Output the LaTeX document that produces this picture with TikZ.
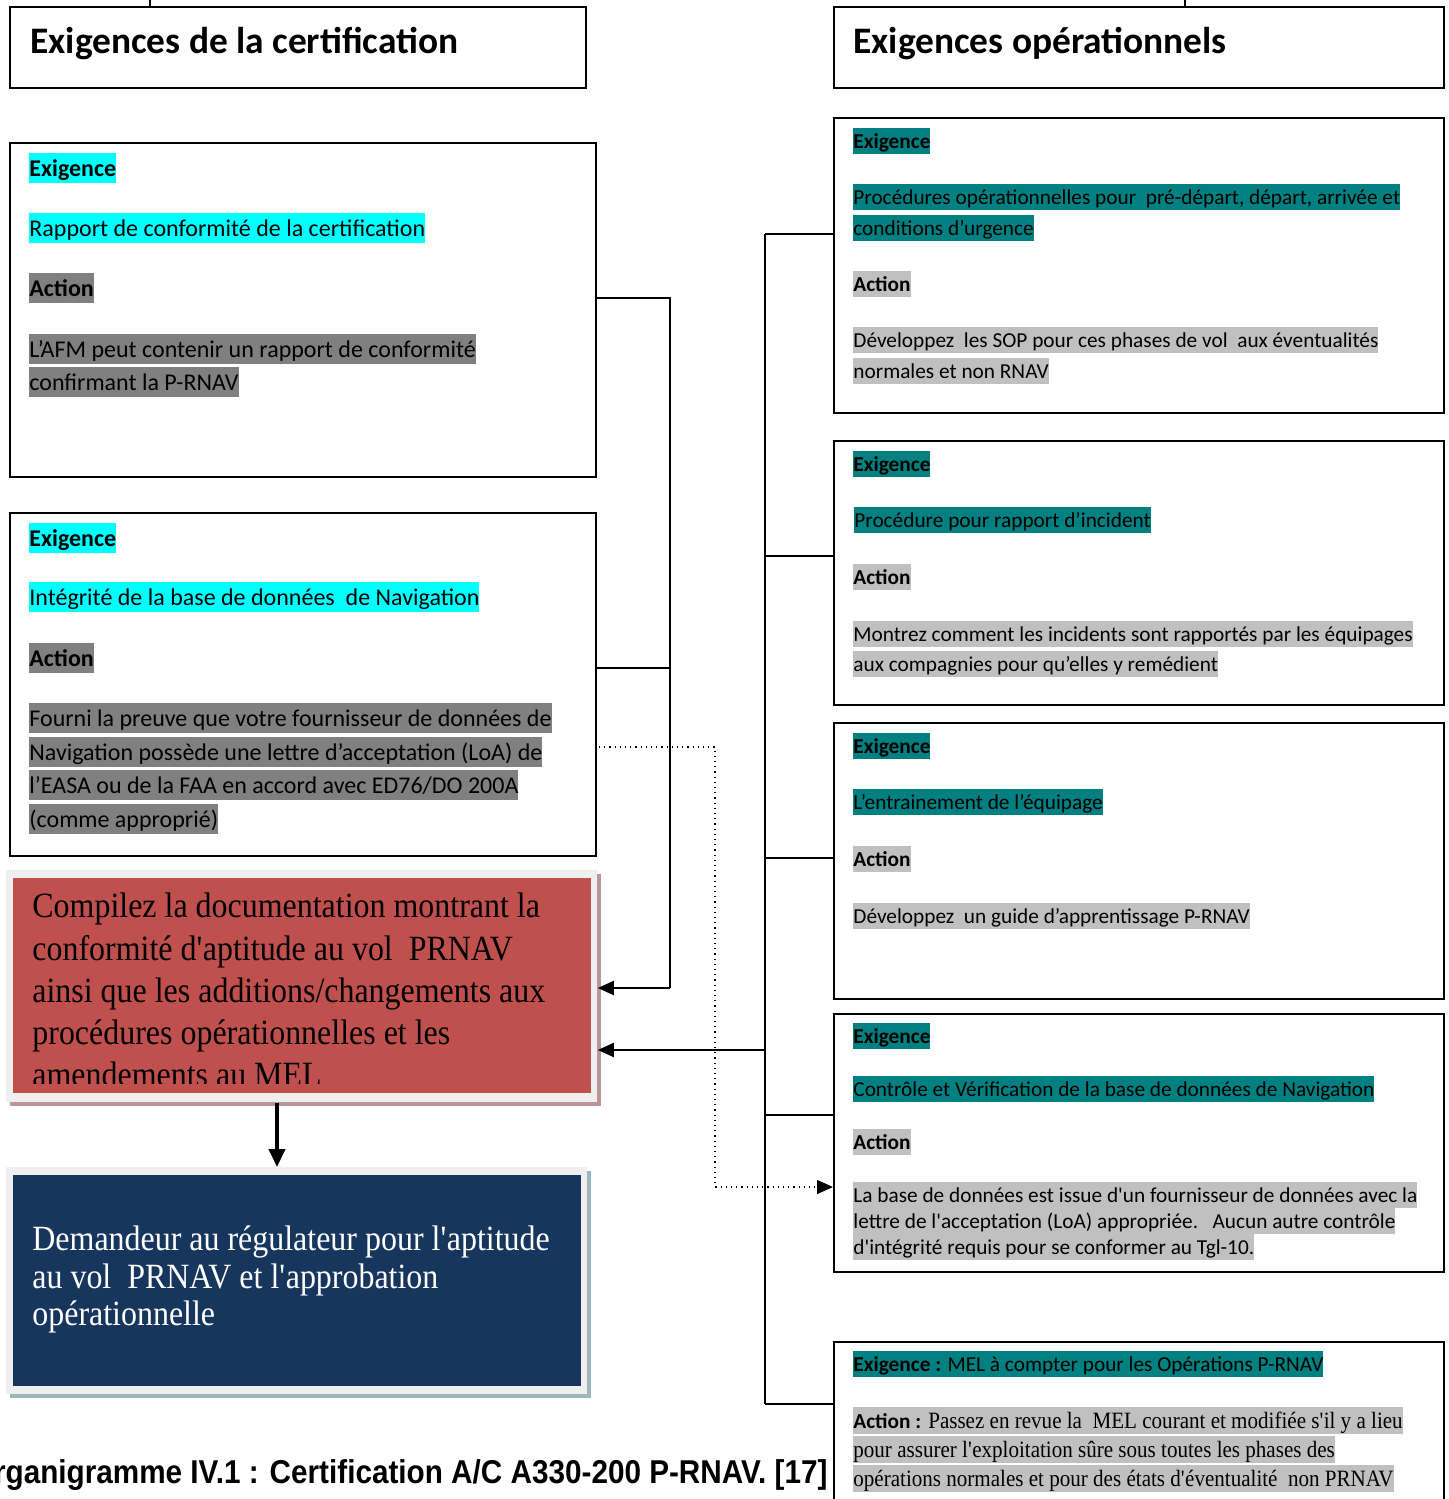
\documentclass[tikz,border=0pt]{standalone}
\usepackage{fontspec}
\setmainfont{Carlito}
\newfontfamily\serifc[FakeStretch=0.9]{Liberation Serif}
\newfontfamily\capfont[FakeStretch=0.9]{Liberation Sans}
\usetikzlibrary{arrows.meta}
\definecolor{hlcyan}{HTML}{00FFFF}
\definecolor{hlgray}{HTML}{808080}
\definecolor{hlteal}{HTML}{008080}
\definecolor{hlsilver}{HTML}{C0C0C0}
\definecolor{redfill}{HTML}{C0504D}
\definecolor{redshadow}{HTML}{B99797}
\definecolor{bluefill}{HTML}{17365D}
\definecolor{blueshadow}{HTML}{9DB6C1}
\definecolor{framegray}{HTML}{EFEFEF}
\newcommand\sq{\textquotesingle}

\begin{document}
\begin{tikzpicture}[x=0.5pt,y=-0.5pt,
  panel/.style={draw=black, line width=1pt, fill=white, inner sep=0, anchor=north west},
  plate/.style={inner sep=0, anchor=north west},
  hlL/.style={inner sep=0, anchor=base west, text height=11.4pt, text depth=3.25pt, font=\fontsize{12}{14}\selectfont},
  hlR/.style={inner sep=0, anchor=base west, text height=10.15pt, text depth=2.87pt, font=\fontsize{10.65}{13}\selectfont},
  hlS/.style={inner sep=0, anchor=base west, text height=10.45pt, text depth=2.9pt, font=\serifc\fontsize{11.7}{14}\selectfont},
  heading/.style={inner sep=0, anchor=base west, font=\fontsize{18.7}{22}\selectfont\bfseries},
  bigtxt/.style={inner sep=0, anchor=base west, font=\serifc\fontsize{17.75}{21}\selectfont},
  link/.style={line width=1pt},
  tip/.style={-{Triangle[length=8pt,width=7pt]}},
]
\useasboundingbox (0,0) rectangle (1449,1499);

% ---------- column headings ----------
\coordinate (stubA) at (150,0);
\coordinate (stubB) at (1185,0);
\node[panel, minimum width=288pt, minimum height=40.5pt] (certT) at (9,6) {};
\node[panel, minimum width=305pt, minimum height=40.5pt] (opT) at (833,6) {};
\draw[link] (stubA) -- (certT.north -| stubA);
\draw[link] (stubB) -- (opT.north -| stubB);
\node[heading] (certTt) at (30,54) {Exigences de la certification};
\node[heading] (opTt) at (853,54) {Exigences opérationnels};

% ---------- certification panels ----------
\node[panel, minimum width=293pt, minimum height=167pt] (L1) at (9,142) {};
\node[hlL, fill=hlcyan] (l1a) at (29,176) {\textbf{Exigence}};
\node[hlL, fill=hlcyan] (l1b) at (29,236) {Rapport de conformité de la certification};
\node[hlL, fill=hlgray] (l1c) at (29,296) {\textbf{Action}};
\node[hlL, fill=hlgray] (l1d) at (29,357) {L’AFM peut contenir un rapport de conformité};
\node[hlL, fill=hlgray] (l1e) at (29,390) {confirmant la P-RNAV};

\node[panel, minimum width=293pt, minimum height=171.5pt] (L2) at (9,512) {};
\node[hlL, fill=hlcyan] (l2a) at (29,546) {\textbf{Exigence}};
\node[hlL, fill=hlcyan] (l2b) at (29,605) {Intégrité de la base de données\ \ de Navigation};
\node[hlL, fill=hlgray] (l2c) at (29,666) {\textbf{Action}};
\node[hlL, fill=hlgray] (l2d) at (29,726) {Fourni la preuve que votre fournisseur de données de};
\node[hlL, fill=hlgray] (l2e) at (29,760) {Navigation possède une lettre d’acceptation (LoA) de};
\node[hlL, fill=hlgray] (l2f) at (29,793) {l’EASA ou de la FAA en accord avec ED76/DO 200A};
\node[hlL, fill=hlgray] (l2g) at (29,827) {(comme approprié)};

% ---------- compile block ----------
\fill[redshadow] (10,874) rectangle (601,1106);
\node[plate, fill=framegray, minimum width=295.5pt, minimum height=116pt] (compileFrame) at (6,870) {};
\node[plate, fill=redfill, minimum width=289pt, minimum height=107.5pt] (compile) at (13,878) {};
\begin{scope}
  \clip (13,878) rectangle (591,1083);
  \node[bigtxt] (cp1) at (32,917) {Compilez la documentation montrant la};
  \node[bigtxt] (cp2) at (32,960) {conformité d\sq aptitude au vol\ \ PRNAV};
  \node[bigtxt] (cp3) at (32,1002) {ainsi que les additions/changements aux};
  \node[bigtxt] (cp4) at (32,1044) {procédures opérationnelles et les};
  \node[bigtxt] (cp5) at (32,1086) {amendements au MEL};
\end{scope}

% ---------- request block ----------
\fill[blueshadow] (10,1171) rectangle (591,1398);
\node[plate, fill=framegray, minimum width=290.5pt, minimum height=113.5pt] (demandFrame) at (6,1167) {};
\node[plate, fill=bluefill, minimum width=284pt, minimum height=105.5pt] (demand) at (13,1175) {};
\node[bigtxt, text=white] (dm1) at (32,1250) {Demandeur au régulateur pour l\sq aptitude};
\node[bigtxt, text=white] (dm2) at (32,1288) {au vol\ \ PRNAV et l\sq approbation};
\node[bigtxt, text=white] (dm3) at (32,1325) {opérationnelle};

\coordinate (dn) at (277,0);
\draw[line width=2.2pt, -{Triangle[length=9pt,width=8pt]}] (compileFrame.south -| dn) -- (demandFrame.north -| dn);

% ---------- operational panels ----------
\node[panel, minimum width=305pt, minimum height=147.5pt] (R1) at (833,117) {};
\node[hlR, fill=hlteal] (r1a) at (853,148) {\textbf{Exigence}};
\node[hlR, fill=hlteal] (r1b) at (853,204) {Procédures opérationnelles pour\ \ pré-départ, départ, arrivée et};
\node[hlR, fill=hlteal] (r1c) at (853,235) {conditions d’urgence};
\node[hlR, fill=hlsilver] (r1d) at (853,291) {\textbf{Action}};
\node[hlR, fill=hlsilver] (r1e) at (853,347) {Développez\ \ les SOP pour ces phases de vol\ \ aux éventualités};
\node[hlR, fill=hlsilver] (r1f) at (853,378) {normales et non RNAV};

\node[panel, minimum width=305pt, minimum height=132pt] (R2) at (833,440) {};
\node[hlR, fill=hlteal] (r2a) at (853,471) {\textbf{Exigence}};
\node[hlR, fill=hlteal] (r2b) at (854,527) {Procédure pour rapport d’incident};
\node[hlR, fill=hlsilver] (r2c) at (853,584) {\textbf{Action}};
\node[hlR, fill=hlsilver] (r2d) at (853,641) {Montrez comment les incidents sont rapportés par les équipages};
\node[hlR, fill=hlsilver] (r2e) at (853,671) {aux compagnies pour qu’elles y remédient};

\node[panel, minimum width=305pt, minimum height=138pt] (R3) at (833,722) {};
\node[hlR, fill=hlteal] (r3a) at (853,753) {\textbf{Exigence}};
\node[hlR, fill=hlteal] (r3b) at (853,809) {L’entrainement de l’équipage};
\node[hlR, fill=hlsilver] (r3c) at (853,866) {\textbf{Action}};
\node[hlR, fill=hlsilver] (r3d) at (853,923) {Développez\ \ un guide d’apprentissage P-RNAV};

\node[panel, minimum width=305pt, minimum height=129pt] (R4) at (833,1013) {};
\node[hlR, fill=hlteal] (r4a) at (853,1043) {\textbf{Exigence}};
\node[hlR, fill=hlteal] (r4b) at (853,1096) {Contrôle et Vérification de la base de données de Navigation};
\node[hlR, fill=hlsilver] (r4c) at (853,1149) {\textbf{Action}};
\node[hlR, fill=hlsilver] (r4d) at (853,1202) {La base de données est issue d\sq un fournisseur de données avec la};
\node[hlR, fill=hlsilver] (r4e) at (853,1228) {lettre de l\sq acceptation (LoA) appropriée.\ \ \ Aucun autre contrôle};
\node[hlR, fill=hlsilver] (r4f) at (853,1254) {d\sq intégrité requis pour se conformer au Tgl-10.};

\node[panel, minimum width=305pt, minimum height=87pt] (R5) at (833,1341) {};
\node[hlR, fill=hlteal] (r5a) at (853,1371) {\textbf{Exigence :} MEL à compter pour les Opérations P-RNAV};
\node[hlS, fill=hlsilver] (r5b) at (853,1428) {{\fontsize{10.65}{13}\selectfont\normalfont\bfseries Action :} Passez en revue la\ \ MEL courant et modifiée s\sq il y a lieu};
\node[hlS, fill=hlsilver] (r5c) at (853,1457) {pour assurer l\sq exploitation sûre sous toutes les phases des};
\node[hlS, fill=hlsilver] (r5d) at (853,1486) {opérations normales et pour des états d\sq éventualité\ \ non PRNAV};

% ---------- connectors ----------
\coordinate (jA) at (670,298);
\coordinate (jB) at (670,668);
\coordinate (jC) at (670,988);
\draw[link] (L1.east |- jA) -- (jA) -- (jC);
\draw[link] (L2.east |- jB) -- (jB);
\draw[link, tip] (jC) -- (compileFrame.east |- jC);

\coordinate (dA) at (715,747);
\coordinate (dB) at (715,1187);
\draw[dotted, line width=0.6pt, tip] ([xshift=1pt]L2.east |- dA) -- (dA) -- (dB) -- (R4.west |- dB);

\coordinate (t1) at (765,234);
\coordinate (t2) at (765,556);
\coordinate (t3) at (765,858);
\coordinate (t4) at (765,1115);
\coordinate (t5) at (765,1404);
\coordinate (tm) at (765,1050);
\draw[link] (t1) -- (t5);
\draw[link] (t1) -- (R1.west |- t1);
\draw[link] (t2) -- (R2.west |- t2);
\draw[link] (t3) -- (R3.west |- t3);
\draw[link] (t4) -- (R4.west |- t4);
\draw[link] (t5) -- (R5.west |- t5);
\draw[link, tip] (tm) -- (compileFrame.east |- tm);

% ---------- caption ----------
\node[inner sep=0, anchor=base east, font=\capfont\bfseries\fontsize{16.5}{20}\selectfont] (caption) at (828,1483) {Organigramme IV.1 : Certification A/C A330-200 P-RNAV. [17]};
\end{tikzpicture}
\end{document}
